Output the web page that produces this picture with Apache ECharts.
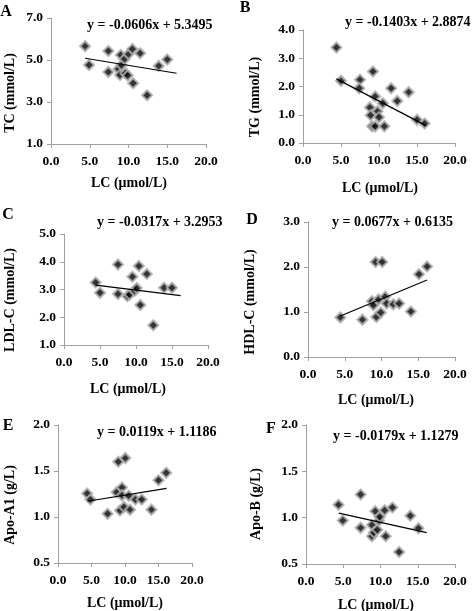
<!DOCTYPE html>
<html><head><meta charset="utf-8">
<script src="https://cdn.jsdelivr.net/npm/echarts@6/dist/echarts.min.js"></script>
<style>html,body{margin:0;padding:0;background:#fff}#c{width:473px;height:611px}</style>
</head><body><div id="c"></div>
<script>
// ---- data ----
const xA=[4.4,4.9,7.4,7.4,8.7,8.9,9.0,9.1,9.5,9.6,9.9,10.0,10.5,10.6,11.5,12.4,13.9,15.0];
const yA=[5.66,4.76,5.43,4.43,4.57,4.29,5.24,4.76,5.05,4.37,4.26,5.28,5.52,3.89,5.32,3.32,4.72,5.02];
const xB=[4.4,5.0,7.5,7.4,8.8,8.9,9.1,9.2,9.5,9.8,9.5,10.0,10.5,10.7,11.6,12.4,13.9,15.0,16.0];
const yB=[3.38,2.2,2.24,1.94,1.26,0.98,0.59,2.53,1.65,1.12,0.59,0.91,1.41,0.59,1.94,1.49,1.8,0.82,0.69];
const xC=[4.4,5.0,7.5,7.5,8.8,9.1,9.5,9.8,10.1,10.4,10.6,11.5,12.4,13.9,15.0];
const yC=[3.25,2.88,3.9,2.84,2.76,2.82,3.46,2.95,3.05,3.85,2.44,3.56,1.71,3.06,3.06];
const xD=[4.4,7.4,9.2,10.1,8.7,8.9,9.3,9.6,9.9,10.5,10.7,11.6,12.4,14.0,15.1,16.2];
const yD=[0.88,0.83,2.11,2.11,1.24,1.15,0.89,1.28,0.99,1.34,1.19,1.17,1.19,1.01,1.84,2.01];
const xE=[4.35,4.85,7.4,8.75,9.0,9.25,9.55,9.55,9.85,10.05,10.55,10.75,11.55,12.5,13.95,15.0,16.15];
const yE=[1.256,1.19,1.036,1.27,1.60,1.07,1.32,1.235,1.11,1.64,1.23,1.08,1.19,1.19,1.08,1.40,1.48];
const xF=[4.36,4.94,7.33,7.33,8.85,8.85,9.12,9.3,9.57,9.8,9.9,10.56,10.7,11.6,12.5,14.0,15.1];
const yF=[1.14,0.97,1.25,0.89,0.92,0.80,0.84,1.07,0.87,0.97,1.01,1.08,0.80,1.11,0.63,1.02,0.885];
const slopes=[-0.0606,-0.1403,-0.0317,0.0677,0.0119,-0.0179];
const intercepts=[5.3495,2.8874,3.2953,0.6135,1.1186,1.1279];
const trendRange=[4.4,16.2];
const letters=['A','B','C','D','E','F'];
const yNames=['TC (mmol/L)','TG (mmol/L)','LDL-C (mmol/L)','HDL-C (mmol/L)','Apo-A1 (g/L)','Apo-B (g/L)'];
const xName='LC (\u03bcmol/L)';
const yMin=[1,0,1,0,0.5,0.5], yMax=[7,4,5,3,2,2], yStep=[2,1,1,1,0.5,0.5];
const xMin=0, xMax=20, xStep=5;
const xs=[xA,xB,xC,xD,xE,xF], ys=[yA,yB,yC,yD,yE,yF];

// ---- layout ----
const grids=[
 {left:51,top:18,width:155,height:126},
 {left:303,top:30,width:152,height:113},
 {left:64,top:234,width:144,height:111},
 {left:308,top:222,width:147,height:135},
 {left:58,top:425,width:134,height:138},
 {left:306,top:425,width:149,height:139}
];
const letterPos=[[6,12],[245,8],[8,215],[252,220],[8,426],[271,429]];
const eqPos=[[87,25],[345,22],[97,222],[332,222],[97,432],[333,436]];
const yNamePos=[[10,93],[255,97],[10,300],[250,302],[10,505],[256,504]];
const xNamePos=[[129,183],[380,188],[128,389],[376,400],[125,603],[376,605]];

const FONT='"Liberation Serif","Times New Roman",serif';
const axisColor='#a0a0a0';
const option={animation:false,backgroundColor:'#fff',grid:[],xAxis:[],yAxis:[],series:[],graphic:[]};
grids.forEach((g,i)=>{
  option.grid.push(Object.assign({containLabel:false},g));
  option.xAxis.push({type:'value',gridIndex:i,min:xMin,max:xMax,interval:xStep,
    axisLine:{show:true,onZero:false,lineStyle:{color:axisColor,width:1}},
    axisTick:{show:true,length:4,lineStyle:{color:axisColor}},
    splitLine:{show:false},
    axisLabel:{margin:11,color:'#000',fontFamily:FONT,fontWeight:'bold',fontSize:13.5,formatter:v=>v.toFixed(1)}});
  option.yAxis.push({type:'value',gridIndex:i,min:yMin[i],max:yMax[i],interval:yStep[i],
    axisLine:{show:true,onZero:false,lineStyle:{color:axisColor,width:1}},
    axisTick:{show:true,length:4,lineStyle:{color:axisColor}},
    splitLine:{show:false},
    axisLabel:{margin:8,color:'#000',fontFamily:FONT,fontWeight:'bold',fontSize:13.5,formatter:v=>v.toFixed(1)}});
  option.series.push({type:'scatter',xAxisIndex:i,yAxisIndex:i,symbol:'diamond',symbolSize:10,
    itemStyle:{color:'#000',borderColor:'#b0b0b0',borderWidth:2.2},
    data:xs[i].map((x,k)=>[x,ys[i][k]])});
  option.series.push({type:'line',xAxisIndex:i,yAxisIndex:i,symbol:'none',
    lineStyle:{color:'#000',width:1.2},
    data:trendRange.map(x=>[x,slopes[i]*x+intercepts[i]])});
  const eq='y = '+slopes[i].toFixed(4)+'x + '+intercepts[i].toFixed(4);
  option.graphic.push({type:'text',x:letterPos[i][0],y:letterPos[i][1],
    style:{text:letters[i],font:'bold 16px '+FONT,fill:'#000',align:'center',verticalAlign:'middle'}});
  option.graphic.push({type:'text',x:eqPos[i][0],y:eqPos[i][1],
    style:{text:eq,font:'bold 14px '+FONT,fill:'#000',align:'left',verticalAlign:'middle'}});
  option.graphic.push({type:'text',x:yNamePos[i][0],y:yNamePos[i][1],rotation:Math.PI/2,
    style:{text:yNames[i],font:'bold 14px '+FONT,fill:'#000',align:'center',verticalAlign:'middle'}});
  option.graphic.push({type:'text',x:xNamePos[i][0],y:xNamePos[i][1],
    style:{text:xName,font:'bold 14px '+FONT,fill:'#000',align:'center',verticalAlign:'middle'}});
});
echarts.init(document.getElementById('c'),null,{renderer:'canvas'}).setOption(option);
</script></body></html>
